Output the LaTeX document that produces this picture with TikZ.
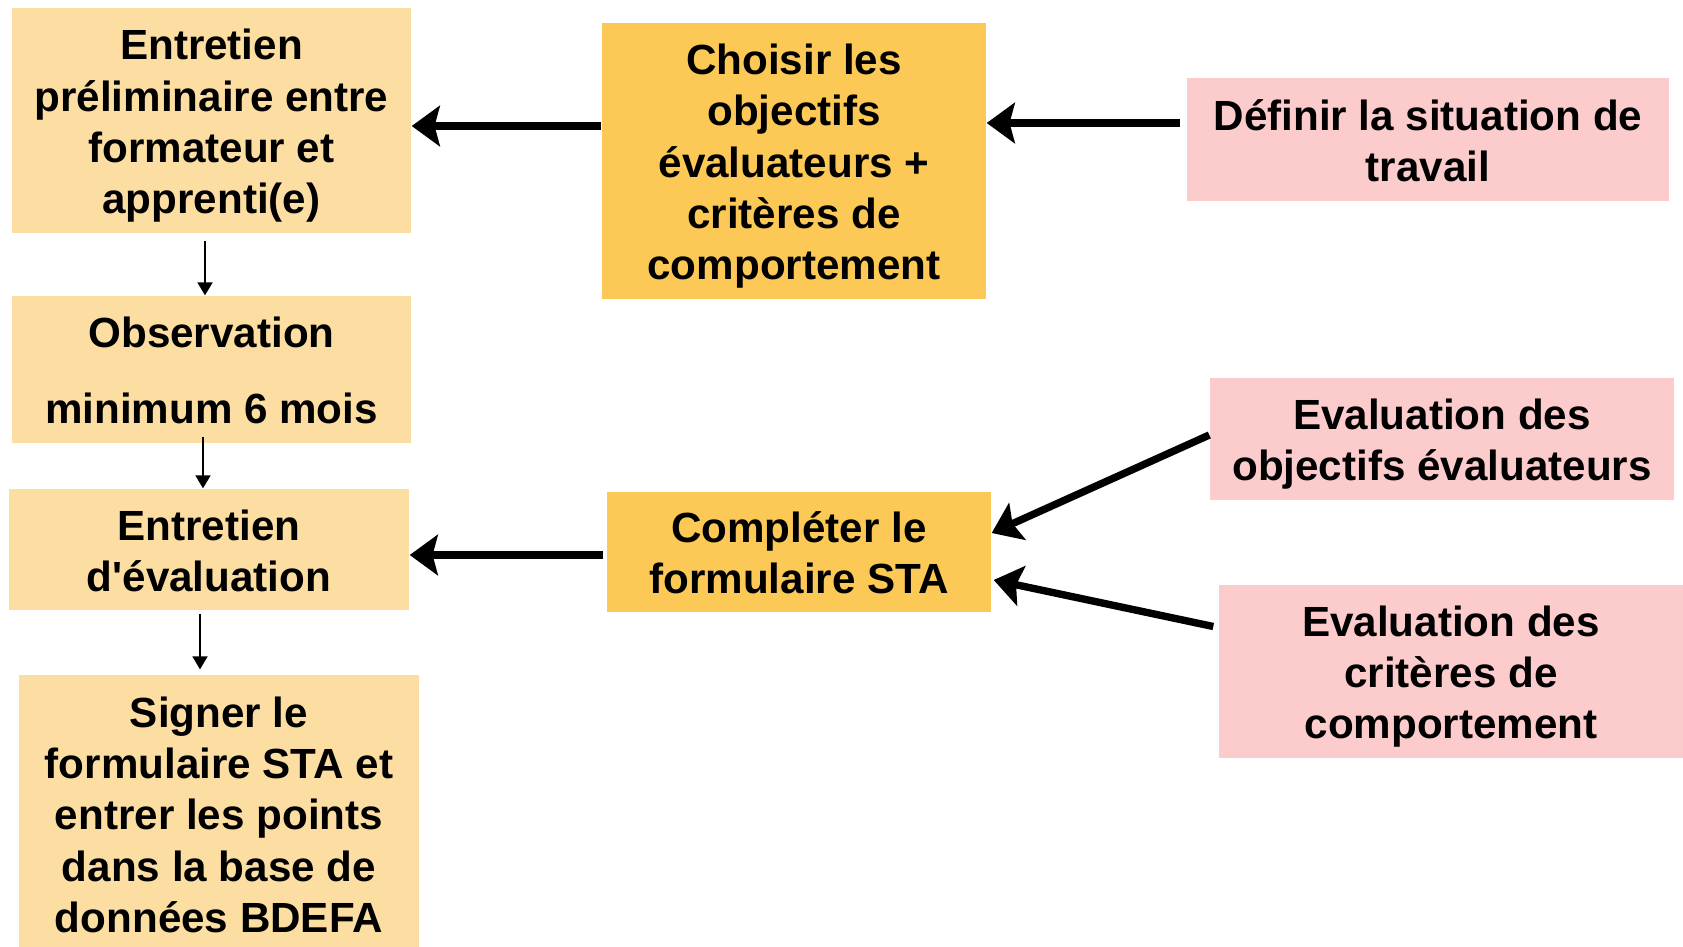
\documentclass[tikz,border=0pt]{standalone}
\usepackage{fontspec}
\setmainfont{Liberation Sans}
\usetikzlibrary{arrows.meta}
\definecolor{sable}{RGB}{252,222,162}
\definecolor{ocre}{RGB}{252,200,86}
\definecolor{rose}{RGB}{252,204,204}
\newcommand\hautligne{\rule{0pt}{11.7pt}}
\begin{document}
\begin{tikzpicture}[
        boite/.style={align=center,inner sep=0pt,font=\fontsize{12}{14.6}\selectfont\bfseries,
            execute at end node={\rule[-2.5pt]{0pt}{0pt}}},
        fleche/.style={-{Triangle[length=3.7pt,width=4.3pt]},line width=0.45pt},
        grosse/.style={-{Stealth[length=8pt,width=11.5pt,inset=1.5pt]},line width=2.1pt}]
                \useasboundingbox (0,0) rectangle (16.83,-9.46);
                % colonne de gauche
                \node[boite,fill=sable,minimum width=3.99cm,minimum height=2.25cm] (prelim) at (2.115,-1.205) {\hautligne Entretien\\préliminaire entre\\formateur et\\apprenti(e)};
                \node[boite,fill=sable,minimum width=3.99cm,minimum height=1.47cm] (observ) at (2.115,-3.695) {\hautligne Observation\\[7.2pt]minimum 6 mois};
                \node[boite,fill=sable,minimum width=4.00cm,minimum height=1.21cm] (evalent) at (2.09,-5.495) {\hautligne Entretien\\d\textquotesingle évaluation};
                \node[boite,fill=sable,minimum width=4.00cm,minimum height=2.77cm] (signer) at (2.19,-8.135) {\hautligne Signer le\\formulaire STA et\\entrer les points\\dans la base de\\données BDEFA};
                % colonne du milieu
                \node[boite,fill=ocre,minimum width=3.84cm,minimum height=2.76cm] (choisir) at (7.94,-1.61) {\hautligne Choisir les\\objectifs\\évaluateurs +\\critères de\\comportement};
                \node[boite,fill=ocre,minimum width=3.84cm,minimum height=1.20cm] (completer) at (7.99,-5.52) {\hautligne Compléter le\\formulaire STA};
                % colonne de droite
                \node[boite,fill=rose,minimum width=4.82cm,minimum height=1.23cm] (definir) at (14.28,-1.395) {\hautligne Définir la situation de\\travail};
                \node[boite,fill=rose,minimum width=4.64cm,minimum height=1.22cm] (objeval) at (14.42,-4.39) {\hautligne Evaluation des\\objectifs évaluateurs};
                \node[boite,fill=rose,minimum width=4.64cm,minimum height=1.73cm] (critcomp) at (14.51,-6.715) {\hautligne Evaluation des\\critères de\\comportement};
                % fleches fines
                \draw[fleche] ([xshift=-0.065cm,yshift=-0.07cm]prelim.south) -- ([xshift=-0.065cm]observ.north);
                \draw[fleche] ([xshift=-0.085cm,yshift=0.07cm]observ.south) -- ([xshift=-0.06cm]evalent.north);
                \draw[fleche] ([xshift=-0.09cm,yshift=-0.03cm]evalent.south) -- ([xshift=-0.19cm,yshift=0.05cm]signer.north);
                % grosses fleches
                \draw[grosse] ([yshift=0.35cm]choisir.west) -- ([yshift=0.35cm]choisir.west -| prelim.east);
                \draw[grosse] ([xshift=-0.06cm,yshift=0.165cm]definir.west) -- ([yshift=0.165cm]definir.west -| choisir.east);
                \draw[grosse] ([xshift=-0.03cm,yshift=-0.03cm]completer.west) -- ([yshift=-0.03cm]completer.west -| evalent.east);
                \draw[grosse] ([yshift=0.04cm]objeval.west) -- ([yshift=0.19cm]completer.east);
                \draw[grosse] ([xshift=-0.05cm,yshift=0.45cm]critcomp.west) -- ([xshift=0.02cm,yshift=-0.28cm]completer.east);
\end{tikzpicture}
\end{document}
